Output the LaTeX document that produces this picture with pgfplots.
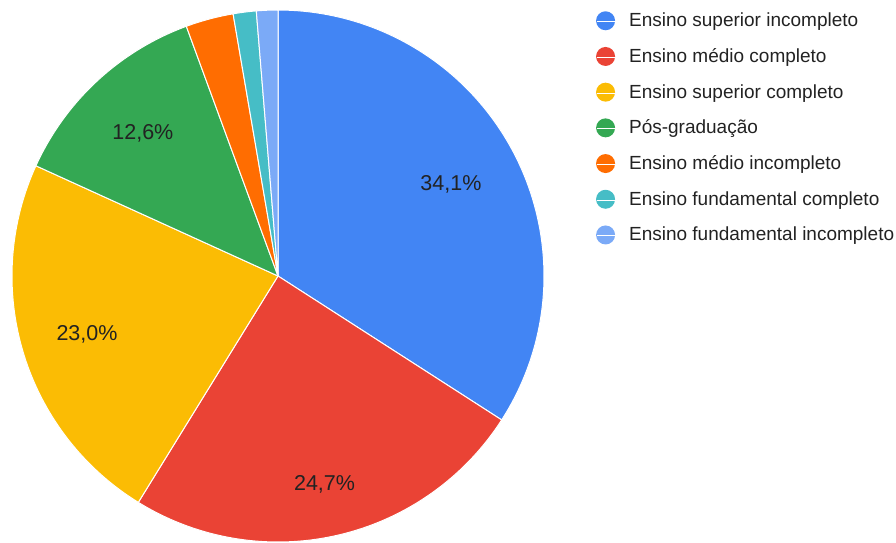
\documentclass[border=0pt]{standalone}
\usepackage{fontspec}
\setmainfont{Liberation Sans}
\usepackage{pgfplots}
\pgfplotsset{compat=1.18}
\definecolor{cA}{HTML}{4285F4}
\definecolor{cB}{HTML}{EA4335}
\definecolor{cC}{HTML}{FBBC04}
\definecolor{cD}{HTML}{34A853}
\definecolor{cE}{HTML}{FF6D01}
\definecolor{cF}{HTML}{46BDC6}
\definecolor{cG}{HTML}{7BAAF7}
\definecolor{txt}{HTML}{222222}
\begin{document}
\begin{tikzpicture}
\begin{axis}[
  hide axis,
  x=266pt, y=266pt,
  xmin=-1.0451, xmax=2.3233, ymin=-1.0, ymax=1.0376,
  legend style={at={(axis cs:1.195,0.996)}, anchor=north west, draw=none, fill=none,
    inner sep=0pt, row sep=16.2pt, column sep=0pt,
    font=\fontsize{19}{22}\selectfont, text=txt,
    nodes={inner sep=0pt, text height=14pt, text depth=4pt}},
  legend cell align=left,
  legend image code/.code={\fill[#1, draw=none] (9pt,1pt) circle (9.5pt); \path (0pt,0pt) -- (32pt,0pt);},
]
% wedges: domain = cumulative percentage (start:end), clockwise from 12 o'clock
\addplot[fill=cA, draw=white, line width=1pt, domain=0:34.1, samples=90] ({cos(90-3.6*x)},{sin(90-3.6*x)}) -- (axis cs:0,0) -- cycle;
\addlegendentry{Ensino superior incompleto}
\addplot[fill=cB, draw=white, line width=1pt, domain=34.1:58.8, samples=70] ({cos(90-3.6*x)},{sin(90-3.6*x)}) -- (axis cs:0,0) -- cycle;
\addlegendentry{Ensino médio completo}
\addplot[fill=cC, draw=white, line width=1pt, domain=58.8:81.8, samples=70] ({cos(90-3.6*x)},{sin(90-3.6*x)}) -- (axis cs:0,0) -- cycle;
\addlegendentry{Ensino superior completo}
\addplot[fill=cD, draw=white, line width=1pt, domain=81.8:94.4, samples=40] ({cos(90-3.6*x)},{sin(90-3.6*x)}) -- (axis cs:0,0) -- cycle;
\addlegendentry{Pós-graduação}
\addplot[fill=cE, draw=white, line width=1pt, domain=94.4:97.3, samples=12] ({cos(90-3.6*x)},{sin(90-3.6*x)}) -- (axis cs:0,0) -- cycle;
\addlegendentry{Ensino médio incompleto}
\addplot[fill=cF, draw=white, line width=1pt, domain=97.3:98.7, samples=8] ({cos(90-3.6*x)},{sin(90-3.6*x)}) -- (axis cs:0,0) -- cycle;
\addlegendentry{Ensino fundamental completo}
\addplot[fill=cG, draw=white, line width=1pt, domain=98.7:100, samples=8] ({cos(90-3.6*x)},{sin(90-3.6*x)}) -- (axis cs:0,0) -- cycle;
\addlegendentry{Ensino fundamental incompleto}

\node[anchor=base, font=\fontsize{21.5}{24}\selectfont, text=txt] at (axis cs:0.650,0.323) {34,1\%};
\node[anchor=base, font=\fontsize{21.5}{24}\selectfont, text=txt] at (axis cs:0.175,-0.808) {24,7\%};
\node[anchor=base, font=\fontsize{21.5}{24}\selectfont, text=txt] at (axis cs:-0.718,-0.244) {23,0\%};
\node[anchor=base, font=\fontsize{21.5}{24}\selectfont, text=txt] at (axis cs:-0.508,0.515) {12,6\%};
\end{axis}
\path (current axis.south west) rectangle (current axis.north east);
\end{tikzpicture}
\end{document}
